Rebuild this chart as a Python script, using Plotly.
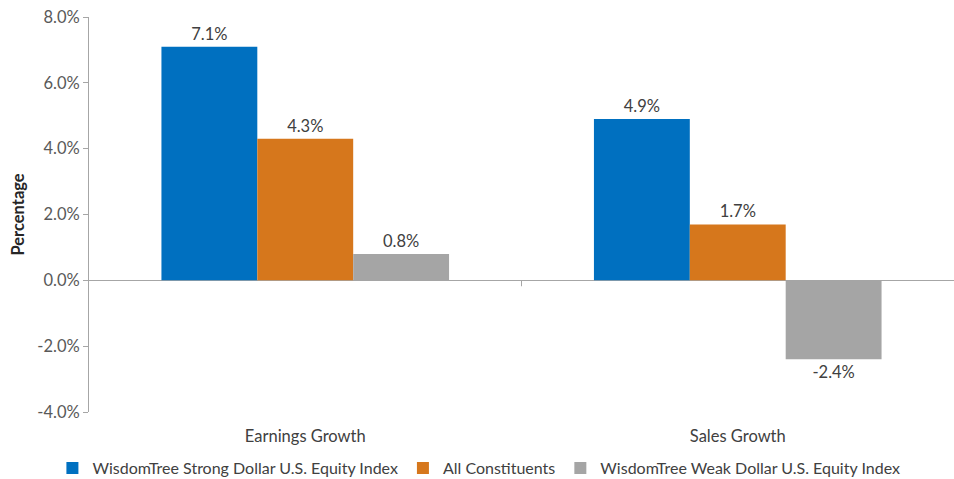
import plotly.graph_objects as go

categories = ["Earnings Growth", "Sales Growth"]
series_names = [
    "WisdomTree Strong Dollar U.S. Equity Index",
    "All Constituents",
    "WisdomTree Weak Dollar U.S. Equity Index",
]
strong = [7.1, 4.9]
all_const = [4.3, 1.7]
weak = [0.8, -2.4]
tick_vals = [-4, -2, 0, 2, 4, 6, 8]
tick_text = ["-4.0%", "-2.0%", "0.0%", "2.0%", "4.0%", "6.0%", "8.0%"]

colors = ["#0070C0", "#D6771C", "#A5A5A5"]
FONT = "Lato, Open Sans, sans-serif"
FS = 16.5

fig = go.Figure()
for name, vals, col in zip(series_names, [strong, all_const, weak], colors):
    fig.add_trace(go.Bar(
        x=categories, y=vals, name=name, marker=dict(color=col, line=dict(width=0)),
        text=[f"{v:.1f}%" for v in vals], textposition="outside",
        textfont=dict(family=FONT, size=FS, color="#404040"), cliponaxis=False,
    ))

fig.update_layout(
    width=954, height=479,
    barmode="group", bargap=0.335, bargroupgap=0,
    plot_bgcolor="white", paper_bgcolor="white",
    margin=dict(l=89, r=0, t=17, b=67, autoexpand=False),
    font=dict(family=FONT, size=FS, color="#595959"),
    showlegend=True,
    legend=dict(orientation="h", xref="container", x=0.502, xanchor="center",
                yref="container", y=0.023, yanchor="middle",
                font=dict(family=FONT, size=16, color="#404040"),
                itemsizing="constant", traceorder="normal", itemwidth=30,
                tracegroupgap=0, bgcolor="rgba(0,0,0,0)"),
)
fig.update_yaxes(
    range=[-4, 8], tickvals=tick_vals, ticktext=tick_text, automargin=False,
    showgrid=False, zeroline=True, zerolinecolor="#A6A6A6", zerolinewidth=1,
    showline=True, linecolor="#A6A6A6", linewidth=1,
    ticks="outside", ticklen=5, tickcolor="#A6A6A6",
    tickfont=dict(family=FONT, size=FS, color="#595959"),
    title=dict(text="<b>Percentage</b>", font=dict(family=FONT, size=FS, color="#262626"), standoff=8),
)
fig.update_xaxes(
    showline=False, showgrid=False, ticks="", automargin=False, ticklabelstandoff=12,
    tickfont=dict(family=FONT, size=FS, color="#404040"),
)
fig.add_shape(type="line", xref="x", yref="y", x0=0.5, x1=0.5, y0=0, y1=-0.18,
              line=dict(color="#A6A6A6", width=1))
fig.write_html("out.html", config={"displayModeBar": False},
               post_script="document.body.style.margin='0';document.body.style.overflow='hidden';")
